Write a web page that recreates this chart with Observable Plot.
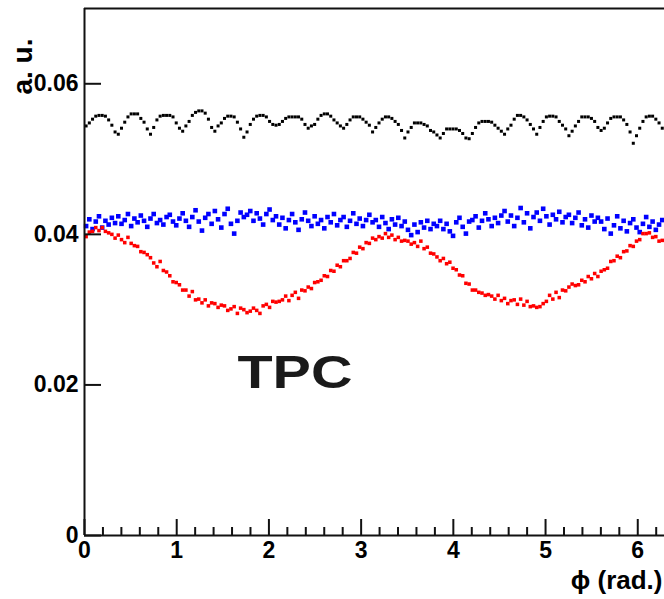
<!DOCTYPE html>
<html><head><meta charset="utf-8">
<script src="https://cdn.jsdelivr.net/npm/d3@7"></script>
<script src="https://cdn.jsdelivr.net/npm/@observablehq/plot@0.6"></script>
<style>html,body{margin:0;padding:0;background:#fff;overflow:hidden}</style>
</head><body><div id="chart"></div>
<script>
// Histogram: 180 bins over [0, 2π]
const nBins = 180;
const phiMax = 2 * Math.PI;

const blackValues = [
.0544,.0548,.0553,.0557,.0558,.0558,.0557,.0552,.0545,.0536,
.0533,.0541,.0549,.0556,.0560,.0560,.0560,.0554,.0549,.0540,
.0533,.0542,.0552,.0557,.0558,.0558,.0558,.0556,.0548,.0541,
.0537,.0544,.0550,.0558,.0562,.0564,.0564,.0561,.0553,.0542,
.0537,.0544,.0548,.0554,.0557,.0557,.0556,.0549,.0540,.0529,
.0536,.0546,.0553,.0557,.0558,.0558,.0556,.0550,.0546,.0545,
.0546,.0550,.0554,.0556,.0556,.0556,.0556,.0553,.0546,.0541,
.0544,.0546,.0553,.0558,.0560,.0560,.0557,.0552,.0548,.0544,
.0541,.0546,.0552,.0556,.0556,.0556,.0553,.0549,.0545,.0536,
.0542,.0548,.0553,.0556,.0556,.0554,.0550,.0546,.0538,.0528,
.0536,.0542,.0548,.0548,.0548,.0546,.0544,.0538,.0536,.0532,
.0528,.0534,.0540,.0540,.0540,.0540,.0538,.0534,.0528,.0527,
.0534,.0542,.0548,.0550,.0550,.0550,.0549,.0545,.0541,.0537,
.0533,.0540,.0545,.0553,.0558,.0558,.0556,.0552,.0546,.0540,
.0533,.0542,.0550,.0556,.0557,.0557,.0556,.0550,.0545,.0540,
.0531,.0537,.0544,.0550,.0556,.0556,.0556,.0554,.0550,.0542,
.0538,.0541,.0548,.0554,.0556,.0556,.0556,.0552,.0546,.0536,
.0521,.0531,.0541,.0550,.0556,.0557,.0557,.0553,.0548,.0541
];

const blueValues = [
.0411,.0420,.0407,.0417,.0424,.0409,.0418,.0413,.0422,.0415,
.0424,.0414,.0419,.0427,.0411,.0421,.0416,.0425,.0418,.0410,
.0421,.0427,.0415,.0419,.0413,.0423,.0426,.0417,.0412,.0421,
.0428,.0418,.0410,.0423,.0432,.0417,.0405,.0422,.0427,.0414,
.0431,.0420,.0409,.0427,.0434,.0414,.0401,.0418,.0429,.0423,
.0426,.0431,.0418,.0428,.0421,.0413,.0427,.0433,.0419,.0424,
.0413,.0422,.0408,.0419,.0427,.0416,.0406,.0420,.0429,.0418,
.0411,.0424,.0414,.0419,.0408,.0423,.0416,.0427,.0412,.0419,
.0423,.0410,.0418,.0428,.0414,.0421,.0411,.0419,.0426,.0416,
.0419,.0410,.0423,.0415,.0407,.0420,.0413,.0422,.0411,.0417,
.0406,.0399,.0413,.0403,.0416,.0409,.0418,.0407,.0414,.0411,
.0418,.0407,.0414,.0404,.0398,.0416,.0422,.0410,.0401,.0417,
.0419,.0424,.0409,.0418,.0428,.0420,.0411,.0422,.0415,.0425,
.0431,.0417,.0425,.0411,.0422,.0435,.0416,.0428,.0408,.0423,
.0429,.0418,.0434,.0424,.0413,.0426,.0420,.0430,.0416,.0423,
.0426,.0415,.0422,.0429,.0412,.0420,.0409,.0425,.0417,.0422,
.0417,.0407,.0421,.0401,.0412,.0424,.0408,.0418,.0404,.0415,
.0420,.0409,.0403,.0414,.0423,.0410,.0417,.0406,.0413,.0419
];

const redValues = [
.0397,.0403,.0404,.0409,.0405,.0409,.0404,.0402,.0400,.0395,
.0399,.0393,.0389,.0396,.0388,.0385,.0384,.0377,.0376,.0373,
.0369,.0362,.0357,.0364,.0352,.0350,.0345,.0337,.0336,.0333,
.0326,.0326,.0318,.0324,.0313,.0314,.0309,.0313,.0305,.0309,
.0308,.0303,.0306,.0305,.0299,.0301,.0304,.0295,.0302,.0300,
.0296,.0298,.0302,.0299,.0295,.0305,.0307,.0303,.0311,.0310,
.0311,.0313,.0318,.0312,.0319,.0323,.0315,.0326,.0325,.0330,
.0328,.0336,.0337,.0339,.0345,.0344,.0352,.0351,.0359,.0357,
.0365,.0365,.0368,.0376,.0375,.0383,.0381,.0389,.0388,.0395,
.0393,.0397,.0395,.0401,.0396,.0399,.0393,.0396,.0391,.0392,
.0391,.0387,.0389,.0384,.0391,.0381,.0383,.0375,.0374,.0370,
.0365,.0368,.0361,.0363,.0355,.0353,.0346,.0345,.0335,.0334,
.0326,.0326,.0323,.0322,.0319,.0320,.0318,.0314,.0319,.0312,
.0315,.0308,.0312,.0313,.0307,.0314,.0306,.0311,.0304,.0305,
.0303,.0304,.0308,.0311,.0319,.0314,.0323,.0316,.0326,.0325,
.0330,.0334,.0332,.0333,.0339,.0337,.0344,.0341,.0348,.0344,
.0351,.0353,.0355,.0364,.0365,.0371,.0369,.0377,.0378,.0385,
.0384,.0391,.0393,.0401,.0401,.0402,.0396,.0397,.0391,.0392
];

const xTickLabels = [0, 1, 2, 3, 4, 5, 6];
const yTickLabels = [0, 0.02, 0.04, 0.06];
const xDomain = [0, 6.29];
const yDomain = [0, 0.07];
const annotation = "TPC";
const xTitle = "\u03D5 (rad.)";
const yTitle = "a. u.";

const binCenter = i => (i + 0.5) * phiMax / nBins;
const toRows = vals => vals.map((v, i) => ({phi: binCenter(i), v}));
const minorTicks = d3.range(0, 6.3, 0.2).filter(t => Math.abs(t - Math.round(t)) > 1e-6);

const frameColor = "#111";

const chart = Plot.plot({
  width: 664, height: 599,
  marginLeft: 84, marginRight: 0, marginTop: 8, marginBottom: 64,
  style: {fontFamily: "'Liberation Sans', Arial, sans-serif", fontWeight: "bold", fontSize: "23px", color: "#000", background: "#fff"},
  x: {domain: xDomain, label: null},
  y: {domain: yDomain, label: null},
  marks: [
    Plot.dot(toRows(blackValues), {x: "phi", y: "v", symbol: "square", r: 1.7, fill: "#000", stroke: "none"}),
    Plot.dot(toRows(blueValues), {x: "phi", y: "v", symbol: "square", r: 2.6, fill: "#0000ff", stroke: "none"}),
    Plot.dot(toRows(redValues), {x: "phi", y: "v", symbol: "square", r: 2.0, fill: "#ff0000", stroke: "none"}),
    // inward ticks
    Plot.axisX(minorTicks, {anchor: "bottom", tickSize: 8, dy: -8, text: null, label: null, stroke: frameColor, strokeWidth: 2}),
    Plot.axisX(xTickLabels, {anchor: "bottom", tickSize: 16, dy: -16, text: null, label: null, stroke: frameColor, strokeWidth: 2}),
    Plot.axisY(yTickLabels, {anchor: "left", tickSize: 17, dx: 17, text: null, label: null, stroke: frameColor, strokeWidth: 2}),
    // tick labels
    Plot.axisX(xTickLabels, {anchor: "bottom", tickSize: 0, tickPadding: 6, label: null, tickFormat: d => String(d), fontSize: 23, fontWeight: "bold", fill: "#000"}),
    Plot.axisY(yTickLabels, {anchor: "left", tickSize: 0, tickPadding: 6, label: null, tickFormat: d => d === 0 ? "0" : d.toFixed(2), fontSize: 23, fontWeight: "bold", fill: "#000"}),
    // frame (top, left, bottom)
    Plot.ruleY([yDomain[1]], {stroke: frameColor, strokeWidth: 2}),
    Plot.ruleY([yDomain[0]], {stroke: frameColor, strokeWidth: 2}),
    Plot.ruleX([xDomain[0]], {stroke: frameColor, strokeWidth: 2}),
    // titles
    Plot.text([annotation], {frameAnchor: "top-left", dx: 153, dy: 347, textAnchor: "start", lineAnchor: "top", fontSize: 46, fontWeight: "bold", fill: "#1a1a1a"}),
    Plot.text([xTitle], {frameAnchor: "bottom-right", dx: -2, dy: 45, textAnchor: "end", lineAnchor: "middle", fontSize: 26, fontWeight: "bold", fill: "#000"}),
    Plot.text([yTitle], {frameAnchor: "top-left", dx: -61, dy: 30, rotate: -90, textAnchor: "end", lineAnchor: "middle", fontSize: 28, fontWeight: "bold", fill: "#000"})
  ]
});

d3.select(chart).selectAll("text").filter(function() { return this.textContent === annotation; })
  .attr("textLength", 115).attr("lengthAdjust", "spacingAndGlyphs");

document.getElementById("chart").appendChild(chart);
</script>
</body></html>
